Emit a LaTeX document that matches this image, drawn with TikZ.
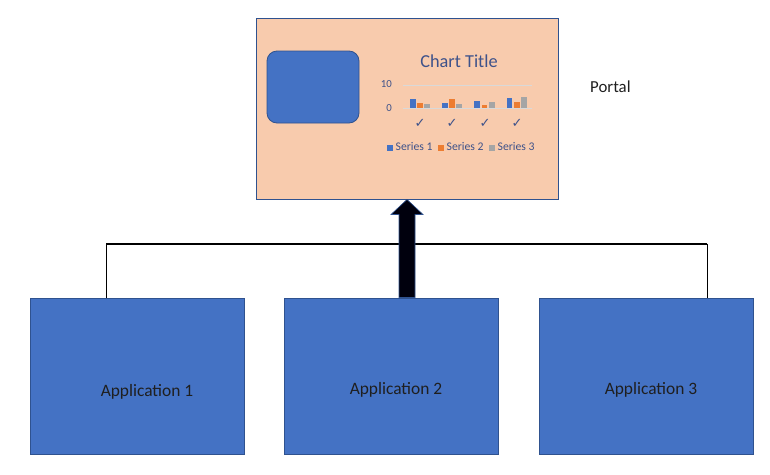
\documentclass[tikz,border=0pt]{standalone}
\usepackage{fontspec}
\usetikzlibrary{calc}
\setmainfont{Carlito}
\newfontfamily\symfont{DejaVu Sans}
\definecolor{appblue}{RGB}{68,114,196}
\definecolor{edgeblue}{RGB}{47,82,143}
\definecolor{peach}{RGB}{248,203,173}
\definecolor{sorange}{RGB}{237,125,49}
\definecolor{sgray}{RGB}{165,165,165}
\definecolor{charttext}{RGB}{62,82,138}
\definecolor{gridc}{RGB}{217,217,217}
\tikzset{
  appbox/.style={draw=edgeblue,fill=appblue,line width=1pt,minimum width=214pt,minimum height=156pt,inner sep=0pt},
  applabel/.style={inner sep=0pt,font=\fontsize{17.4}{20}\selectfont,text=black!88},
  ctext/.style={text=charttext,inner sep=0pt},
  legsq/.style={minimum size=6pt,inner sep=0pt},
}
\begin{document}
\begin{tikzpicture}[x=1pt,y=-1pt]
\useasboundingbox (0,0) rectangle (770,474);
% portal
\node[draw=edgeblue,fill=peach,line width=1pt,minimum width=302pt,minimum height=181pt,inner sep=0pt] (portal) at (407,108.5) {};
\node[draw=edgeblue,fill=appblue,line width=0.8pt,rounded corners=10pt,minimum width=92pt,minimum height=72pt,inner sep=0pt] (img) at (313,87) {};
\node[ctext,font=\fontsize{18.3}{20}\selectfont] (title) at (459,61) {Chart Title};
\node[ctext,font=\fontsize{10.8}{12}\selectfont,anchor=east] (y10) at (392,84) {10};
\node[ctext,font=\fontsize{10.8}{12}\selectfont,anchor=east] (y0) at (392,108) {0};
\draw[gridc,line width=1pt] (403,85.5) -- (532,85.5);
\draw[gridc,line width=1pt] (403,108.5) -- (532,108.5);
% bars
\fill[appblue] (410,99) rectangle (415.5,108);
\fill[sorange] (417,103) rectangle (422.5,108);
\fill[sgray] (424,104) rectangle (430,108);
\fill[appblue] (442,103) rectangle (447.5,108);
\fill[sorange] (449,99) rectangle (454.5,108);
\fill[sgray] (456,104) rectangle (462,108);
\fill[appblue] (474,101) rectangle (479.5,108);
\fill[sorange] (481.5,105) rectangle (487,108);
\fill[sgray] (489,102) rectangle (494.5,108);
\fill[appblue] (506.5,98) rectangle (512,108);
\fill[sorange] (514,102) rectangle (519.5,108);
\fill[sgray] (521,97) rectangle (527,108);
% category labels
\foreach \cx/\nm in {420/c1,452/c2,485/c3,517/c4}
  \node[ctext,font=\symfont\fontsize{13}{14}\selectfont] (\nm) at (\cx,123) {✓};
% legend
\node[legsq,fill=appblue] (l1) at (389.5,147.5) {};
\node[ctext,font=\fontsize{11.7}{13}\selectfont,anchor=west] (t1) at (395.5,147) {Series 1};
\node[legsq,fill=sorange] (l2) at (440.5,147.5) {};
\node[ctext,font=\fontsize{11.7}{13}\selectfont,anchor=west] (t2) at (446.5,147) {Series 2};
\node[legsq,fill=sgray] (l3) at (491.5,147.5) {};
\node[ctext,font=\fontsize{11.7}{13}\selectfont,anchor=west] (t3) at (497.5,147) {Series 3};
% portal label
\node[inner sep=0pt,font=\fontsize{16.8}{19}\selectfont,anchor=west,text=black!88] (plabel) at (590,87) {Portal};
% apps
\node[appbox] (app1) at (137,376) {};
\node[appbox] (app2) at (391,376) {};
\node[appbox] (app3) at (646,376) {};
\node[applabel] (app1t) at ($(app1.center)+(10,16)$) {Application 1};
\node[applabel] (app2t) at ($(app2.center)+(5,14)$) {Application 2};
\node[applabel] (app3t) at ($(app3.center)+(5,14)$) {Application 3};
% bus
\coordinate (busL) at (106,243.5);
\coordinate (busR) at (707,243.5);
\draw[black,line width=2pt] (busL) -- (busR);
\draw[black,line width=0.8pt] (busL) -- (app1.north -| busL);
\draw[black,line width=0.8pt] (busR) -- (app3.north -| busR);
% block arrow
\coordinate (ab) at (app2.north -| portal.south);
\coordinate (at) at (portal.south);
\filldraw[fill=black!95!blue,draw=edgeblue,line width=0.6pt]
  ($(ab)+(-8,0)$) -- ($(ab)+(8,0)$) -- ($(at)+(8,15)$) -- ($(at)+(16,15)$) -- (at) -- ($(at)+(-16,15)$) -- ($(at)+(-8,15)$) -- cycle;
\end{tikzpicture}
\end{document}
